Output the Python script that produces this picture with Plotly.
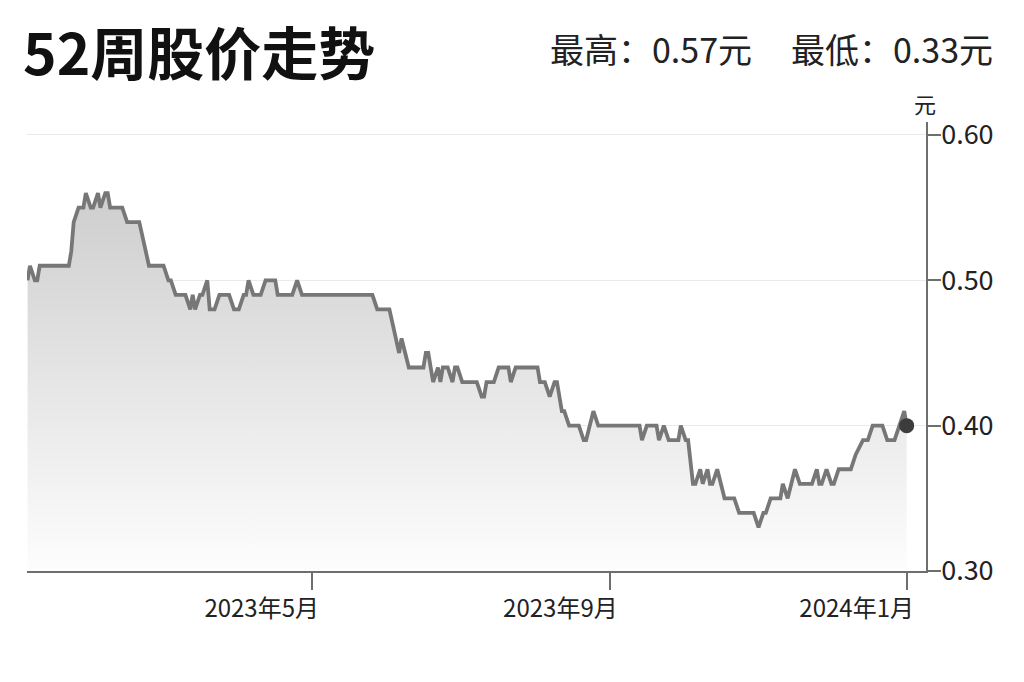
import plotly.graph_objects as go

dates = [
    "2023-01-04", "2023-01-05", "2023-01-07", "2023-01-08", "2023-01-09", "2023-01-21",
    "2023-01-22", "2023-01-23", "2023-01-25", "2023-01-27", "2023-01-28", "2023-01-30",
    "2023-01-31", "2023-02-02", "2023-02-03", "2023-02-05", "2023-02-06", "2023-02-07",
    "2023-02-12", "2023-02-14", "2023-02-19", "2023-02-23", "2023-03-01", "2023-03-03",
    "2023-03-04", "2023-03-06", "2023-03-10", "2023-03-12", "2023-03-13", "2023-03-14",
    "2023-03-16", "2023-03-17", "2023-03-19", "2023-03-20", "2023-03-22", "2023-03-24",
    "2023-03-28", "2023-03-30", "2023-04-01", "2023-04-03", "2023-04-04", "2023-04-05",
    "2023-04-07", "2023-04-10", "2023-04-12", "2023-04-16", "2023-04-17", "2023-04-23",
    "2023-04-25", "2023-04-27", "2023-05-26", "2023-05-28", "2023-06-02", "2023-06-06",
    "2023-06-07", "2023-06-10", "2023-06-16", "2023-06-17", "2023-06-18", "2023-06-20",
    "2023-06-22", "2023-06-23", "2023-06-24", "2023-06-26", "2023-06-28", "2023-06-29",
    "2023-06-30", "2023-07-02", "2023-07-08", "2023-07-10", "2023-07-11", "2023-07-12",
    "2023-07-15", "2023-07-17", "2023-07-21", "2023-07-22", "2023-07-24", "2023-08-02",
    "2023-08-03", "2023-08-05", "2023-08-07", "2023-08-09", "2023-08-10", "2023-08-12",
    "2023-08-13", "2023-08-15", "2023-08-19", "2023-08-21", "2023-08-22", "2023-08-25",
    "2023-08-27", "2023-09-13", "2023-09-14", "2023-09-16", "2023-09-20", "2023-09-21",
    "2023-09-23", "2023-09-25", "2023-09-29", "2023-09-30", "2023-10-02", "2023-10-03",
    "2023-10-05", "2023-10-06", "2023-10-08", "2023-10-09", "2023-10-11", "2023-10-12",
    "2023-10-13", "2023-10-15", "2023-10-18", "2023-10-22", "2023-10-24", "2023-10-30",
    "2023-11-01", "2023-11-03", "2023-11-04", "2023-11-06", "2023-11-10", "2023-11-11",
    "2023-11-13", "2023-11-16", "2023-11-18", "2023-11-23", "2023-11-25", "2023-11-26",
    "2023-11-27", "2023-11-29", "2023-12-01", "2023-12-02", "2023-12-04", "2023-12-09",
    "2023-12-11", "2023-12-14", "2023-12-16", "2023-12-18", "2023-12-22", "2023-12-24",
    "2023-12-27", "2023-12-29", "2023-12-31", "2024-01-01",
]

prices = [
    0.50, 0.51, 0.50, 0.50, 0.51, 0.51,
    0.52, 0.54, 0.55, 0.55, 0.56, 0.55,
    0.55, 0.56, 0.55, 0.56, 0.56, 0.55,
    0.55, 0.54, 0.54, 0.51, 0.51, 0.50,
    0.50, 0.49, 0.49, 0.48, 0.49, 0.48,
    0.49, 0.49, 0.50, 0.48, 0.48, 0.49,
    0.49, 0.48, 0.48, 0.49, 0.49, 0.50,
    0.49, 0.49, 0.50, 0.50, 0.49, 0.49,
    0.50, 0.49, 0.49, 0.48, 0.48, 0.45,
    0.46, 0.44, 0.44, 0.45, 0.45, 0.43,
    0.44, 0.43, 0.44, 0.44, 0.43, 0.44,
    0.44, 0.43, 0.43, 0.42, 0.42, 0.43,
    0.43, 0.44, 0.44, 0.43, 0.44, 0.44,
    0.43, 0.43, 0.42, 0.43, 0.43, 0.41,
    0.41, 0.40, 0.40, 0.39, 0.39, 0.41,
    0.40, 0.40, 0.39, 0.40, 0.40, 0.39,
    0.40, 0.39, 0.39, 0.40, 0.39, 0.39,
    0.36, 0.36, 0.37, 0.36, 0.37, 0.36,
    0.36, 0.37, 0.35, 0.35, 0.34, 0.34,
    0.33, 0.34, 0.34, 0.35, 0.35, 0.36,
    0.35, 0.37, 0.36, 0.36, 0.37, 0.36,
    0.36, 0.37, 0.36, 0.36, 0.37, 0.37,
    0.38, 0.39, 0.39, 0.40, 0.40, 0.39,
    0.39, 0.40, 0.41, 0.40,
]

x_tick_vals = ["2023-05-01", "2023-09-01", "2024-01-01"]
x_tick_text = ["2023年5月", "2023年9月", "2024年1月"]
y_tick_vals = [0.30, 0.40, 0.50, 0.60]
y_tick_text = ["0.30", "0.40", "0.50", "0.60"]

title_text = "52周股价走势"
high_text = "最高：0.57元"
low_text = "最低：0.33元"
unit_text = "元"

FONT = "Noto Sans CJK SC"

fig = go.Figure()
fig.add_trace(go.Scatter(
    x=dates, y=prices, mode="lines",
    line=dict(color="#777777", width=3.8),
    fill="tozeroy",
    fillgradient=dict(type="vertical",
                      colorscale=[[0, "rgb(253,253,253)"], [1, "rgb(206,206,206)"]],
                      start=0.30, stop=0.56),
    hoverinfo="skip", showlegend=False,
))
fig.add_trace(go.Scatter(
    x=[dates[-1]], y=[prices[-1]], mode="markers",
    marker=dict(color="#3c3c3c", size=15),
    hoverinfo="skip", showlegend=False,
))

fig.update_layout(
    width=1024, height=682,
    margin=dict(l=19, r=106, t=114, b=119),
    paper_bgcolor="white", plot_bgcolor="white",
    font=dict(family=FONT, color="#222222"),
    xaxis=dict(
        range=["2023-01-03 18:30", "2024-01-08 23:00"],
        tickmode="array", tickvals=x_tick_vals, ticktext=x_tick_text,
        showgrid=False, zeroline=False,
        showline=True, linecolor="#6e6e6e", linewidth=2,
        ticks="outside", ticklen=17, tickwidth=1.5, tickcolor="#6e6e6e",
        tickfont=dict(size=24, color="#222222", family=FONT),
        ticklabelshift=-50, ticklabelstandoff=-2,
    ),
    yaxis=dict(
        range=[0.30, 0.6089], side="right",
        tickmode="array", tickvals=y_tick_vals, ticktext=y_tick_text,
        showgrid=True, gridcolor="#ebebeb", gridwidth=1, zeroline=False,
        showline=True, linecolor="#6e6e6e", linewidth=1.5,
        ticks="outside", ticklen=13, tickwidth=1.5, tickcolor="#6e6e6e",
        tickfont=dict(size=27, color="#222222", family=FONT),
        ticklabelstandoff=-5,
    ),
    annotations=[
        dict(text="<b>" + title_text + "</b>", xref="paper", yref="paper",
             x=-0.0056, y=1.1604, xanchor="left", yanchor="middle", showarrow=False,
             borderpad=0,
             font=dict(size=57, color="#111111", family=FONT)),
        dict(text=high_text, xref="paper", yref="paper",
             x=0.8087, y=1.1633, xanchor="right", yanchor="middle", showarrow=False,
             font=dict(size=34, color="#222222", family=FONT)),
        dict(text=low_text, xref="paper", yref="paper",
             x=1.0768, y=1.1633, xanchor="right", yanchor="middle", showarrow=False,
             font=dict(size=34, color="#222222", family=FONT)),
        dict(text=unit_text, xref="paper", yref="paper",
             x=0.9989, y=1.0425, xanchor="center", yanchor="middle", showarrow=False,
             font=dict(size=22, color="#222222", family=FONT)),
    ],
)

fig.write_html("out.html")
